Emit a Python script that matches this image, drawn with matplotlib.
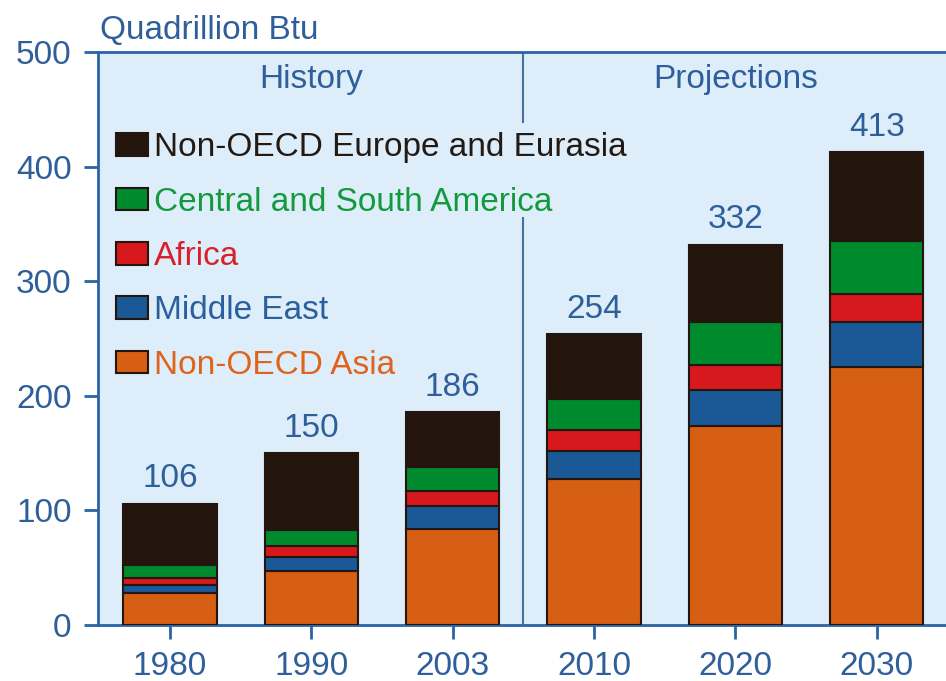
import numpy as np
import matplotlib.pyplot as plt
from matplotlib.patches import Patch

plt.rcParams['font.family'] = ['Liberation Sans', 'DejaVu Sans']

years = ["1980", "1990", "2003", "2010", "2020", "2030"]
totals = [106, 150, 186, 254, 332, 413]

# stacked from bottom to top
asia = [28, 47, 84, 127, 174, 225]
mideast = [7, 12, 20, 25, 31, 39]
africa = [6, 10, 13, 18, 22, 25]
csam = [11, 14, 21, 27, 37, 46]
europe = [t - (a + m + f + c) for t, a, m, f, c in zip(totals, asia, mideast, africa, csam)]

names = ["Non-OECD Asia", "Middle East", "Africa",
         "Central and South America", "Non-OECD Europe and Eurasia"]
series = [asia, mideast, africa, csam, europe]
colors = ["#d75f14", "#1a5896", "#d7181c", "#008a2e", "#23150c"]
text_colors = ["#e0631c", "#2a5f9e", "#d8202a", "#129a3c", "#231a14"]

blue = "#2f5f9a"
edge = "#231510"
fs = 24

fig = plt.figure(figsize=(9.46, 6.81), dpi=100)
ax = fig.add_axes([0.1036, 0.0822, 0.8964, 0.8414])
ax.set_facecolor("#ddeefa")

x = np.arange(len(years))
bottom = np.zeros(len(years))
for vals, c, nm in zip(series, colors, names):
    ax.bar(x, vals, width=0.66, bottom=bottom, color=c, edgecolor=edge,
           linewidth=1.5, label=nm, zorder=3)
    bottom += np.array(vals)

for xi, t in zip(x, totals):
    ax.text(xi, t + 8, str(t), ha='center', va='bottom', fontsize=fs,
            color=blue, zorder=4)

# history / projections divider
ax.vlines(2.5, 0, 356, color="#4a6f9f", linewidth=1.5, zorder=2)
ax.vlines(2.5, 438, 500, color="#4a6f9f", linewidth=1.5, zorder=2)
ax.text(1.0, 476, "History", ha='center', va='center', fontsize=fs, color=blue)
ax.text(4.0, 476, "Projections", ha='center', va='center', fontsize=fs, color=blue)

ax.set_xlim(-0.51, 5.49)
ax.set_ylim(0, 500)
ax.set_yticks([0, 100, 200, 300, 400, 500])
ax.set_xticks(x)
ax.set_xticklabels(years)

for s in ["left", "bottom", "top"]:
    ax.spines[s].set_color("#2a63a6")
    ax.spines[s].set_linewidth(2)
ax.spines["right"].set_visible(False)
ax.tick_params(axis='both', colors="#2a63a6", labelcolor=blue, labelsize=fs,
               length=10, width=2, pad=9, direction='out')

ax.text(0.002, 1.01, "Quadrillion Btu", transform=ax.transAxes,
        ha='left', va='bottom', fontsize=fs, color=blue)

handles = [Patch(facecolor=c, edgecolor=edge, linewidth=1.5) for c in colors][::-1]
leg = ax.legend(handles, names[::-1], loc='upper left', bbox_to_anchor=(0.005, 0.883),
                frameon=False, fontsize=fs, handlelength=0.96, handleheight=0.66,
                handletextpad=0.2, labelspacing=0.70, borderaxespad=0,
                labelcolor=text_colors[::-1])
leg.set_zorder(5)

fig.savefig("out.png", dpi=100)
